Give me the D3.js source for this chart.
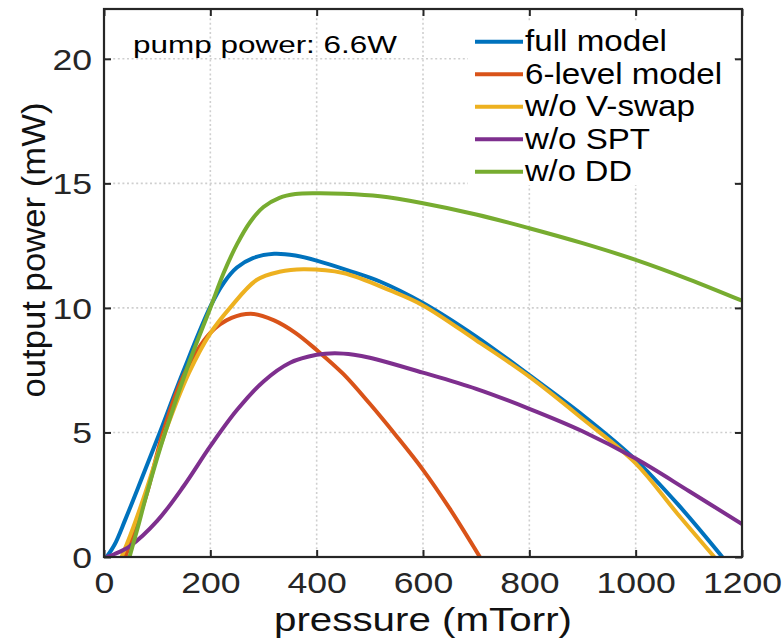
<!DOCTYPE html>
<html>
<head>
<meta charset="utf-8">
<script src="https://cdnjs.cloudflare.com/ajax/libs/d3/7.8.5/d3.min.js"></script>
<style>
	body{margin:0;background:#fff;}
	svg{display:block;font-family:"Liberation Sans",Arial,Helvetica,sans-serif;}
</style>
</head>
<body>
<svg class="chart" width="784" height="642"></svg>
<script>
// ticks
var xTicks = [0,200,400,600,800,1000,1200];
var yTicks = [0,5,10,15,20];

// legend entries, in drawing order
var seriesNames = ["full model","6-level model","w/o V-swap","w/o SPT","w/o DD"];
var seriesColors = ["#0072BD","#D95319","#EDB120","#7E2F8E","#77AC30"];

// pressure (mTorr) / output power (mW)
var fullP = [5,20,40,70,105,150,200,225,250,280,320,360,400,460,519,600,700,800,900,1000,1080,1163];
var fullV = [0,0.5,1.5,3.1,5.0,7.5,10.05,11.0,11.62,12.0,12.17,12.1,11.9,11.5,11.06,10.2,8.85,7.3,5.7,3.9,2.1,0];

var sixP = [40,60,80,111,150,200,240,281,320,360,400,450,500,550,600,650,707];
var sixV = [0,1.2,2.5,5.0,7.3,9.0,9.6,9.76,9.5,9.0,8.31,7.35,6.15,4.86,3.5,1.95,0];

var vswapP = [33,50,75,115,160,200,237,287,330,375,450,538,600,700,800,900,1000,1077,1148];
var vswapV = [0,0.9,2.4,5.0,7.4,8.98,10.0,11.12,11.45,11.55,11.4,10.7,10.1,8.7,7.24,5.55,3.76,1.78,0];

var sptP = [5,20,49,100,150,200,250,300,350,400,434,470,500,600,700,800,900,1000,1100,1200];
var sptV = [0,0.12,0.44,1.45,2.85,4.45,5.9,7.05,7.8,8.12,8.18,8.12,8.0,7.4,6.75,5.95,5.05,3.95,2.65,1.32];

var ddP = [48,65,80,115,160,200,225,250,275,300,330,360,400,450,519,600,700,800,900,1000,1100,1200];
var ddV = [0,1.3,2.5,5.0,7.8,10.0,11.4,12.55,13.45,14.05,14.42,14.57,14.6,14.58,14.48,14.2,13.75,13.2,12.6,11.93,11.15,10.29];

var seriesP = [fullP,sixP,vswapP,sptP,ddP];
var seriesV = [fullV,sixV,vswapV,sptV,ddV];

var Chart = (function(){
	var svg = d3.select("svg.chart");
	var left = 104, right = 742, top = 9, bottom = 557;
	var axisColor = "#262626";

	var x = d3.scaleLinear().domain([0,1200]).range([left,right]);
	var y = d3.scaleLinear().domain([0,22]).range([bottom,top]);

	var drawGrid = function(){
		var grid = svg.append("g").attr("class","grid")
			.attr("stroke","#cfcfcf")
			.attr("stroke-width",1.6)
			.attr("stroke-dasharray","2,2.6");
		grid.selectAll("line.gx")
			.data(xTicks.slice(1,-1))
			.enter().append("line")
			.attr("class","gx")
			.attr("x1",function(d){return x(d);})
			.attr("x2",function(d){return x(d);})
			.attr("y1",top).attr("y2",bottom);
		grid.selectAll("line.gy")
			.data(yTicks.slice(1))
			.enter().append("line")
			.attr("class","gy")
			.attr("y1",function(d){return y(d);})
			.attr("y2",function(d){return y(d);})
			.attr("x1",left).attr("x2",right);
	}

	var drawLines = function(){
		svg.append("clipPath").attr("id","plotClip")
			.append("rect")
			.attr("x",left).attr("y",top)
			.attr("width",right-left).attr("height",bottom-top);
		var line = d3.line()
			.x(function(d){return x(d[0]);})
			.y(function(d){return y(d[1]);})
			.curve(d3.curveCatmullRom.alpha(0.5));
		var g = svg.append("g").attr("clip-path","url(#plotClip)");
		seriesNames.forEach(function(name,i){
			var pts = seriesP[i].map(function(p,j){ return [p,seriesV[i][j]]; });
			g.append("path")
				.attr("d",line(pts))
				.attr("fill","none")
				.attr("stroke",seriesColors[i])
				.attr("stroke-width",4)
				.attr("stroke-linejoin","round")
				.attr("stroke-linecap","butt");
		});
	}

	var styleAxis = function(g){
		g.select(".domain").remove();
		g.selectAll(".tick line").attr("stroke",axisColor).attr("stroke-width",2);
		g.selectAll(".tick text")
			.attr("fill",axisColor)
			.attr("font-size",30)
			.attr("lengthAdjust","spacingAndGlyphs")
			.attr("textLength",function(d){ return String(d).length*19.8; });
	}

	var drawAxes = function(){
		var fmt = d3.format("d");
		var bx = svg.append("g").attr("transform","translate(0,"+bottom+")")
			.call(d3.axisBottom(x).tickValues(xTicks).tickFormat(fmt).tickSize(-7).tickSizeOuter(0).tickPadding(15));
		styleAxis(bx);
		bx.selectAll(".tick text").attr("dy","0.71em");

		var tx = svg.append("g").attr("transform","translate(0,"+top+")")
			.call(d3.axisTop(x).tickValues(xTicks).tickSize(-7).tickSizeOuter(0).tickFormat(""));
		styleAxis(tx);

		var ly = svg.append("g").attr("transform","translate("+left+",0)")
			.call(d3.axisLeft(y).tickValues(yTicks).tickFormat(fmt).tickSize(-7).tickSizeOuter(0).tickPadding(12));
		styleAxis(ly);
		ly.selectAll(".tick text").attr("dy","0.34em");

		var ry = svg.append("g").attr("transform","translate("+right+",0)")
			.call(d3.axisRight(y).tickValues(yTicks).tickSize(-7).tickSizeOuter(0).tickFormat(""));
		styleAxis(ry);

		svg.append("rect")
			.attr("x",left).attr("y",top)
			.attr("width",right-left).attr("height",bottom-top)
			.attr("fill","none")
			.attr("stroke",axisColor)
			.attr("stroke-width",2.2);

		svg.append("text")
			.attr("x",(left+right)/2)
			.attr("y",631)
			.attr("text-anchor","middle")
			.attr("font-size",33)
			.attr("fill","#111")
			.attr("lengthAdjust","spacingAndGlyphs")
			.attr("textLength",298)
			.text("pressure (mTorr)");

		svg.append("text")
			.attr("transform","translate(45,250) rotate(-90)")
			.attr("text-anchor","middle")
			.attr("font-size",34)
			.attr("fill","#111")
			.attr("lengthAdjust","spacingAndGlyphs")
			.attr("textLength",295)
			.text("output power (mW)");

		svg.append("text")
			.attr("x",133).attr("y",53)
			.attr("font-size",24)
			.attr("fill","#000")
			.attr("lengthAdjust","spacingAndGlyphs")
			.attr("textLength",264)
			.text("pump power: 6.6W");
	}

	var drawLegend = function(){
		var widths = [142,197,170,125,107];
		var lg = svg.append("g").attr("class","legend");
		lg.append("rect")
			.attr("x",468).attr("y",22)
			.attr("width",265).attr("height",163)
			.attr("fill","#fff");
		seriesNames.forEach(function(name,i){
			var ly = 41.7 + i*32.5;
			lg.append("line")
				.attr("x1",475).attr("x2",523)
				.attr("y1",ly).attr("y2",ly)
				.attr("stroke",seriesColors[i])
				.attr("stroke-width",4);
			lg.append("text")
				.attr("x",525).attr("y",ly+9.5)
				.attr("font-size",29)
				.attr("fill","#000")
				.attr("lengthAdjust","spacingAndGlyphs")
				.attr("textLength",widths[i])
				.text(name);
		});
	}

	return {
		render : function(){
			drawGrid();
			drawLegend();
			drawLines();
			drawAxes();
		}
	}
})();

Chart.render();
</script>
</body>
</html>
